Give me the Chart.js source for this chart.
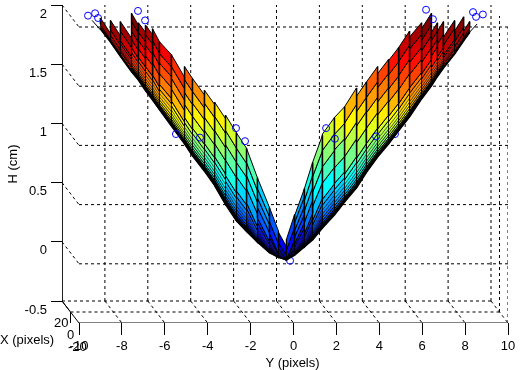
<!DOCTYPE html>
<html>
<head>
<meta charset="utf-8">
<style>
  html, body { margin: 0; padding: 0; background: #fff; overflow: hidden; }
  #grafico { display: block; }
</style>
<script src="https://cdn.jsdelivr.net/npm/chart.js@4"></script>
</head>
<body>
<canvas id="grafico" width="520" height="370"></canvas>
<script>
// ticks de los ejes
const ticksY = [-10, -8, -6, -4, -2, 0, 2, 4, 6, 8, 10];
const ticksH = [-0.5, 0, 0.5, 1, 1.5, 2];
const ticksX = ["20", "0", "-20"];

// ala izquierda, una columna por linea vertical de la malla
const izqY = [-9.00, -8.53, -8.07, -7.55, -7.23, -6.90, -6.57, -6.25, -5.69, -5.08, -4.71, -4.15, -3.68, -3.17, -2.66, -2.19, -1.68, -1.12, -0.70, -0.33];
const izqFila0 = [1.89, 1.87, 1.86, 1.93, 1.85, 1.83, 1.80, 1.69, 1.58, 1.48, 1.38, 1.28, 1.18, 1.07, 0.92, 0.79, 0.54, 0.29, 0.08, -0.04];
const izqFila1 = [1.88, 1.85, 1.82, 1.86, 1.77, 1.75, 1.70, 1.59, 1.48, 1.37, 1.27, 1.17, 1.06, 0.94, 0.79, 0.67, 0.45, 0.23, 0.05, -0.05];
const izqFila2 = [1.86, 1.82, 1.78, 1.78, 1.70, 1.66, 1.60, 1.51, 1.38, 1.26, 1.17, 1.05, 0.94, 0.82, 0.67, 0.56, 0.37, 0.17, 0.02, -0.07];
const izqFila3 = [1.85, 1.79, 1.74, 1.71, 1.63, 1.57, 1.51, 1.42, 1.29, 1.16, 1.06, 0.94, 0.83, 0.69, 0.55, 0.45, 0.29, 0.12, -0.01, -0.09];
const izqFila4 = [1.84, 1.76, 1.70, 1.64, 1.56, 1.48, 1.41, 1.33, 1.19, 1.05, 0.96, 0.83, 0.72, 0.56, 0.43, 0.33, 0.20, 0.07, -0.04, -0.10];
const izqBase = [1.80, 1.69, 1.57, 1.44, 1.37, 1.28, 1.20, 1.12, 0.98, 0.83, 0.73, 0.60, 0.48, 0.32, 0.18, 0.09, 0.00, -0.09, -0.13, -0.15];
const izqCaida = [0.13, 0.13, 0.14, 0.10, 0.08, 0.08, 0.11, 0.11, 0.19, 0.10, 0.14, 0.12, 0.14, 0.15, 0.13, 0.25, 0.25, 0.20, 0.12];

// ala derecha, de afuera hacia el centro
const derY = [8.21, 7.93, 7.51, 6.99, 6.71, 6.43, 5.97, 5.41, 4.90, 4.43, 3.92, 3.40, 2.94, 2.38, 1.91, 1.35, 0.89, 0.51, 0.05, -0.33];
const derFila0 = [1.86, 1.90, 1.87, 1.86, 1.85, 1.93, 1.85, 1.78, 1.64, 1.54, 1.48, 1.35, 1.30, 1.14, 1.05, 0.90, 0.67, 0.45, 0.23, 0.01];
const derFila1 = [1.85, 1.87, 1.83, 1.81, 1.78, 1.83, 1.75, 1.66, 1.52, 1.42, 1.35, 1.22, 1.16, 1.00, 0.91, 0.77, 0.56, 0.38, 0.17, -0.01];
const derFila2 = [1.83, 1.84, 1.80, 1.75, 1.71, 1.74, 1.64, 1.54, 1.40, 1.30, 1.22, 1.10, 1.01, 0.87, 0.77, 0.63, 0.46, 0.30, 0.12, -0.04];
const derFila3 = [1.82, 1.81, 1.75, 1.70, 1.65, 1.64, 1.54, 1.42, 1.29, 1.19, 1.09, 0.96, 0.87, 0.72, 0.63, 0.50, 0.35, 0.23, 0.07, -0.06];
const derFila4 = [1.81, 1.78, 1.71, 1.64, 1.59, 1.54, 1.43, 1.30, 1.17, 1.07, 0.96, 0.83, 0.72, 0.59, 0.49, 0.37, 0.24, 0.16, 0.02, -0.09];
const derBase = [1.77, 1.70, 1.59, 1.47, 1.40, 1.32, 1.21, 1.06, 0.94, 0.83, 0.72, 0.59, 0.46, 0.34, 0.23, 0.12, 0.02, -0.04, -0.11, -0.15];
const derCaida = [0.08, 0.12, 0.14, 0.08, 0.08, 0.13, 0.12, 0.14, 0.11, 0.12, 0.13, 0.12, 0.16, 0.09, 0.14, 0.23, 0.22, 0.23, 0.21];

// filas apretadas del borde inferior: fraccion entre la fila 4 y la base, y su grosor
const filasFinas = [0.2, 0.36, 0.5, 0.62, 0.73, 0.82, 0.9, 0.96];
const grosorFinas = [0.4, 0.5, 0.6, 0.8, 1, 1.2, 1.2, 1.2, 1.2];

// marcadores azules
const marcasY = [-9.58, -9.25, -9.11, -7.25, -6.92, -5.48, -4.36, -2.68, -2.26, 6.18, 6.50, 8.37, 8.51, 8.83, 1.52, 1.93, 3.85];
const marcasH = [1.91, 1.93, 1.89, 1.95, 1.87, 0.91, 0.88, 0.96, 0.85, 1.96, 1.88, 1.94, 1.90, 1.92, 0.96, 0.87, 0.89];
// estos quedan tapados por la superficie
const marcasAtrasY = [-4.50, 4.73, -0.16];
const marcasAtrasH = [0.94, 0.91, -0.16];

// perspectiva: cuanto se corre el plano del frente respecto al del fondo
const corrimientoY = 17 / 21.45;
const corrimientoH = 22 / 118.4;
const punto = (y, h, prof) => ({ x: y - (1 - prof) * corrimientoY, y: h - prof * corrimientoH });

const jet = (h) => {
  const t = Math.min(1, Math.max(0, (h + 0.15) / 2.08));
  const canal = (c) => Math.round(255 * Math.min(1, Math.max(0, 1.5 - Math.abs(4 * t - c))));
  return `rgb(${canal(3)},${canal(2)},${canal(1)})`;
};

const celda = (pts, color, ancho) => ({
  data: [...pts, pts[0]],
  showLine: true,
  fill: "shape",
  backgroundColor: color,
  borderColor: "#000",
  borderWidth: ancho,
  pointRadius: 0,
  tension: 0,
});

const linea = (pts, dash, ancho) => ({
  data: pts,
  showLine: true,
  fill: false,
  borderColor: "#000",
  borderWidth: ancho || 1,
  borderDash: dash ? [3, 3] : [],
  pointRadius: 0,
  tension: 0,
});

const circulos = (ys, hs) => ({
  data: ys.map((y, i) => ({ x: y, y: hs[i] })),
  showLine: false,
  pointRadius: 3.5,
  pointBorderColor: "#0000ff",
  pointBackgroundColor: "rgba(0,0,0,0)",
  pointBorderWidth: 1,
});

// arma las celdas de un ala, tira por tira
const armarAla = (ys, filas, base, caida) => {
  const verticales = [];
  const celdas = [];
  for (let i = 0; i < ys.length - 1; i++) {
    const ultima = filas[filas.length - 1][i];
    // donde las columnas son angostas las filas se juntan, se saltan las muy pegadas
    const izq = [];
    filas.forEach((f, j) => {
      if (j === 0 || izq[izq.length - 1].h - f[i] > 0.06) izq.push({ h: f[i], ancho: 1 });
    });
    filasFinas.forEach((fr, k) => {
      const h = ultima + (base[i] - ultima) * fr;
      if (izq[izq.length - 1].h - h > 0.012) izq.push({ h, ancho: grosorFinas[k] });
    });
    izq.push({ h: base[i], ancho: 1 });
    const n = izq.length - 1;
    const bajaBase = base[i] - base[i + 1];
    const der = izq.map((p, j) => p.h - (caida[i] * (1 - j / n) + bajaBase * (j / n)));
    for (let j = 0; j < n; j++) {
      celdas.push(
        celda(
          [
            { x: ys[i], y: izq[j].h },
            { x: ys[i + 1], y: der[j] },
            { x: ys[i + 1], y: der[j + 1] },
            { x: ys[i], y: izq[j + 1].h },
          ],
          jet(izq[j].h),
          izq[j].ancho
        )
      );
    }
    verticales.push(linea([{ x: ys[i], y: filas[0][i] }, { x: ys[i], y: ultima }], false, 1.5));
  }
  const borde = linea(ys.map((y, i) => ({ x: y, y: base[i] })), false, 2);
  return [borde, ...verticales, ...celdas];
};

const armarCaja = () => {
  const caja = [];
  const techo = 2.045;
  // verticales del fondo
  ticksY.slice(1).forEach((y) => {
    caja.push(linea([punto(y, -0.5, 0), punto(y, techo, 0)], true));
    caja.push(linea([punto(y, -0.5, 0), punto(y, -0.5, 1)], true));
  });
  // lineas del lado derecho
  caja.push(linea([punto(10, -0.5, 0.5), punto(10, 2, 0.5)], true));
  caja.push(linea([punto(10, -0.5, 1), punto(10, 2, 1)], true));
  // horizontales y diagonales de cada nivel
  ticksH.slice(1).forEach((h) => {
    caja.push(linea([punto(-10, h, 1), punto(10, h, 1)], true));
    caja.push(linea([punto(-10, h, 0), punto(-10, h, 1)], true));
  });
  caja.push(linea([punto(-10, -0.5, 0), punto(10, -0.5, 0)], true));
  caja.push(linea([punto(-10, -0.5, 0.5), punto(10, -0.5, 0.5)], true));
  // trazos llenos
  caja.push(linea([punto(-10, 2, 0), punto(-10, -0.5, 0), punto(-10, -0.5, 0.45)]));
  caja.push(linea([punto(-10, -0.5, 0), punto(-10, -0.5, 1), punto(10, -0.5, 1)]));
  caja.push(linea([punto(-10, -0.5, 0.5), punto(-10, -0.59, 0.5)]));
  return caja;
};

const datasets = [
  circulos(marcasY, marcasH),
  linea([{ x: -9.39, y: 1.87 }, { x: -9.0, y: 1.79 }]),
  linea([{ x: 8.21, y: 1.77 }, { x: 8.56, y: 1.84 }]),
  ...armarAla(derY, [derFila0, derFila1, derFila2, derFila3, derFila4], derBase, derCaida),
  ...armarAla(izqY, [izqFila0, izqFila1, izqFila2, izqFila3, izqFila4], izqBase, izqCaida),
  circulos(marcasAtrasY, marcasAtrasH),
  ...armarCaja(),
];

const fuente = '"Liberation Sans", Arial, sans-serif';

// los rotulos del eje X y el titulo Y, que no caen donde los pone Chart.js
const rotulos = {
  id: "rotulos",
  afterDraw: (chart) => {
    const { ctx, scales } = chart;
    const baseX = scales.x.getPixelForValue(-10);
    const baseY = scales.y.getPixelForValue(-0.5);
    ctx.save();
    ctx.fillStyle = "#000";
    ctx.font = `13px ${fuente}`;
    ctx.textBaseline = "middle";
    ctx.fillText(ticksX[0], baseX - 25, baseY + 22);
    ctx.fillText(ticksX[1], baseX - 12, baseY + 34);
    ctx.fillText(ticksX[2], baseX - 11, baseY + 46);
    ctx.fillText("X (pixels)", baseX - 79, baseY + 39);
    ctx.textAlign = "center";
    ctx.fillText("Y (pixels)", scales.x.getPixelForValue(0) - 1, 363);
    ctx.restore();
  },
};

new Chart(document.getElementById("grafico"), {
  type: "scatter",
  data: { datasets },
  plugins: [rotulos],
  options: {
    responsive: false,
    animation: false,
    events: [],
    layout: { padding: { top: 5, right: 12, left: 0, bottom: 0 } },
    plugins: { legend: { display: false }, tooltip: { enabled: false } },
    scales: {
      x: {
        type: "linear",
        min: -10 - corrimientoY,
        max: 10,
        afterBuildTicks: (eje) => {
          eje.ticks = ticksY.map((v) => ({ value: v }));
        },
        afterFit: (eje) => {
          eje.height = 47;
          eje.paddingLeft = 0;
          eje.paddingRight = 0;
        },
        border: { display: false },
        grid: { drawOnChartArea: false, tickLength: 12, color: "#000" },
        ticks: {
          autoSkip: false,
          maxRotation: 0,
          color: "#000",
          padding: 4,
          font: { family: fuente, size: 13 },
          callback: (v) => String(v),
        },
      },
      y: {
        type: "linear",
        min: -0.5 - corrimientoH,
        max: 2,
        afterBuildTicks: (eje) => {
          eje.ticks = ticksH.map((v) => ({ value: v }));
        },
        afterFit: (eje) => {
          eje.width = 62;
          eje.paddingTop = 0;
          eje.paddingBottom = 0;
        },
        border: { display: false },
        grid: { drawOnChartArea: false, tickLength: 11, color: "#000" },
        title: {
          display: true,
          text: "H (cm)",
          color: "#000",
          padding: { top: 6, bottom: 0 },
          font: { family: fuente, size: 13 },
        },
        ticks: {
          autoSkip: false,
          color: "#000",
          padding: 4,
          labelOffset: 9,
          font: { family: fuente, size: 13 },
          callback: (v) => String(v),
        },
      },
    },
  },
});
</script>
</body>
</html>
